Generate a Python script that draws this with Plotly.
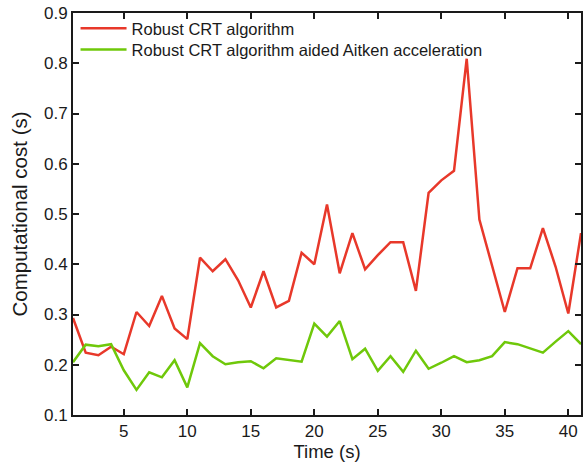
import plotly.graph_objects as go

time_s = list(range(1, 42))
robust_crt = [0.293, 0.224, 0.219, 0.236, 0.221, 0.305, 0.277, 0.337, 0.272, 0.251,
              0.413, 0.386, 0.410, 0.368, 0.314, 0.386, 0.314, 0.327, 0.423, 0.400,
              0.519, 0.382, 0.462, 0.390, 0.418, 0.444, 0.444, 0.347, 0.542, 0.567,
              0.586, 0.809, 0.489, 0.395, 0.305, 0.392, 0.392, 0.472, 0.395, 0.302,
              0.462]
robust_crt_aitken = [0.205, 0.240, 0.237, 0.241, 0.189, 0.150, 0.185, 0.175, 0.209, 0.155,
                     0.243, 0.217, 0.201, 0.205, 0.207, 0.193, 0.213, 0.209, 0.206, 0.282,
                     0.256, 0.287, 0.211, 0.232, 0.188, 0.217, 0.186, 0.228, 0.192, 0.204,
                     0.217, 0.205, 0.209, 0.217, 0.245, 0.241, 0.233, 0.224, 0.246, 0.267,
                     0.241]
series_names = ["Robust CRT algorithm", "Robust CRT algorithm aided Aitken acceleration"]
x_ticks = [5, 10, 15, 20, 25, 30, 35, 40]
y_ticks = [0.1, 0.2, 0.3, 0.4, 0.5, 0.6, 0.7, 0.8, 0.9]

FONT = "Arial, Liberation Sans, Helvetica, sans-serif"
INK = "#1a1a1a"

fig = go.Figure()
fig.add_trace(go.Scatter(x=time_s, y=robust_crt, mode="lines", name=series_names[0],
                         line=dict(color="#e8382a", width=2.5), legend="legend"))
fig.add_trace(go.Scatter(x=time_s, y=robust_crt_aitken, mode="lines", name=series_names[1],
                         line=dict(color="#6fc80a", width=2.5), legend="legend2"))

axis_common = dict(showline=True, linecolor=INK, linewidth=2, mirror="ticks",
                   ticks="inside", ticklen=6, tickwidth=2, tickcolor=INK,
                   showgrid=False, zeroline=False,
                   tickfont=dict(family=FONT, size=17, color=INK))

fig.update_xaxes(range=[1, 41], tickvals=x_ticks, ticktext=[str(v) for v in x_ticks],
                 title=dict(text="Time (s)", font=dict(family=FONT, size=18.5, color=INK),
                            standoff=2),
                 **axis_common)
fig.update_yaxes(range=[0.1, 0.9], tickvals=y_ticks, ticktext=[f"{v:.1f}" for v in y_ticks],
                 title=dict(text="Computational cost (s)", font=dict(family=FONT, size=20.5, color=INK),
                            standoff=11),
                 **axis_common)

legend_common = dict(x=0.005, xanchor="left", yanchor="top",
                     bgcolor="rgba(0,0,0,0)", borderwidth=0,
                     font=dict(family=FONT, size=16.5, color=INK), itemwidth=46)

fig.update_layout(
    width=587, height=463,
    margin=dict(l=73, r=4, t=12, b=48),
    paper_bgcolor="white", plot_bgcolor="white",
    showlegend=True,
    legend=dict(y=1.005, **legend_common),
    legend2=dict(y=0.952, **legend_common),
)

fig.write_html("out.html")
